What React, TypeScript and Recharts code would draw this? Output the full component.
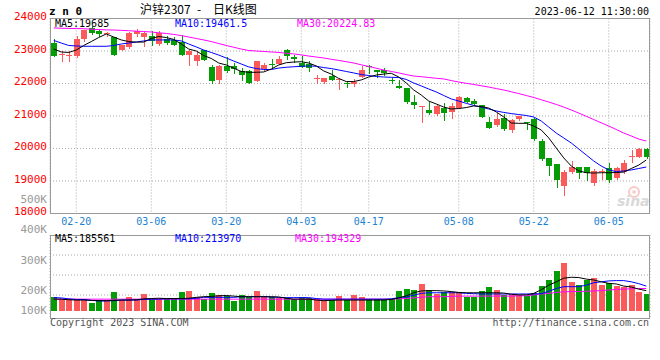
import React from 'react';
import { ComposedChart, Bar, Line, XAxis, YAxis, CartesianGrid } from 'recharts';

const RED = '#fa5a5a';
const GREEN = '#069c06';
const GRID = '#aaaaaa';
const BORDER = '#999999';
const DATE_BLUE = '#1a82d0';
const MONO = '"DejaVu Sans Mono", monospace';

const dates = [
  '02-15','02-16','02-17','02-20','02-21','02-22','02-23','02-24','02-27','02-28',
  '03-01','03-02','03-03','03-06','03-07','03-08','03-09','03-10','03-13','03-14','03-15','03-16','03-17','03-20','03-21','03-22','03-23','03-24','03-27','03-28','03-29','03-30','03-31',
  '04-03','04-04','04-06','04-07','04-10','04-11','04-12','04-13','04-14','04-17','04-18','04-19','04-20','04-21','04-24','04-25','04-26','04-27','04-28',
  '05-04','05-05','05-08','05-09','05-10','05-11','05-12','05-15','05-16','05-17','05-18','05-19','05-22','05-23','05-24','05-25','05-26','05-29','05-30','05-31',
  '06-01','06-02','06-05','06-06','06-07','06-08','06-09','06-12',
];

const opens = [23250,22890,22870,22855,23380,23710,23605,23520,23430,23040, 23125,23530,23420,23450,23225,23380,23350,23275,22885,22685, 23020,22500,22100,22530,22550,22375,22395,22080,22435,22610, 22600,23030,22825,22640,22600,22150,22055,22240,22140,22025, 21985,22210,22530,22415,22415,22095,21925,21870,21440,21280, 21185,21060,21235,21115,21235,21545,21460,21340,20825,20725, 20930,20570,20910,20810,20900,20240,19700,19525,18845,19285, 19440,19420,18950,19300,19390,19085,19270,19740,19750,19975];
const closes = [22855,22920,22890,23370,23635,23555,23530,23540,22885,23175, 23555,23605,23555,23300,23555,23255,23195,22885,23010,22885, 22730,22070,22530,22375,22445,22250,22015,22690,22570,22590, 22755,22845,22755,22515,22470,22170,22170,22110,22150,21975, 22045,22415,22510,22365,22315,22080,21870,21420,21340,21295, 21100,21315,21100,21315,21575,21440,21370,20980,20640,20900, 20590,20875,21000,20800,20285,19665,19460,19030,19285,19440, 19255,19255,19315,19315,19030,19390,19545,19755,19975,19750];
const highs = [23380,22990,22990,23450,23655,23760,23655,23585,23440,23195, 23575,23675,23585,23605,23605,23450,23420,23500,23020,22990, 23030,22580,22580,22805,22630,22475,22425,22700,22620,22755, 22845,23060,22875,22845,22700,22260,22170,22415,22160,22085, 22130,22540,22570,22415,22470,22160,22110,21875,21645,21300, 21440,21360,21390,21390,21615,21575,21515,21340,20980,21085, 21060,20910,21000,20820,20930,20285,19700,19525,19340,19615, 19440,19420,19360,19360,19545,19440,19645,19955,20005,20005];
const lows = [22840,22680,22680,22830,23300,23525,23450,23450,22880,23020, 23090,23450,23145,23195,23195,23225,23175,22880,22580,22580, 22720,22015,22015,22355,22325,22115,22015,22070,22415,22470, 22600,22750,22670,22515,22395,22025,22005,22105,21830,21885, 21925,22190,22330,22210,22260,22005,21870,21390,21255,20825, 21060,21030,20875,20950,21235,21440,21340,20980,20620,20690, 20570,20515,20875,20590,20260,19645,19185,18825,18570,19255, 19085,19030,18875,19050,18980,19050,19255,19595,19750,19715];

const ma5 = [23060,22970,22955,23030,23170,23290,23415,23525,23430,23340, 23290,23275,23275,23385,23445,23415,23355,23215,23060,23000, 22860,22770,22630,22570,22470,22370,22345,22345,22355,22445, 22570,22640,22660,22670,22630,22540,22385,22290,22155,22060, 22060,22110,22200,22260,22290,22315,22200,22015,21800,21645, 21460,21370,21275,21215,21230,21260,21310,21290,21245,21125, 20970,20785,20775,20775,20690,20570,20325,20015,19710,19460, 19310,19255,19245,19255,19255,19260,19275,19385,19490,19645];
const ma10 = [23325,23245,23170,23155,23145,23145,23145,23145,23170,23215, 23245,23275,23310,23340,23340,23340,23340,23310,23215,23125, 23030,22955,22875,22785,22690,22600,22510,22460,22430,22430, 22475,22500,22515,22530,22540,22530,22490,22460,22415,22370, 22325,22275,22245,22215,22200,22190,22185,22125,22015,21925, 21830,21740,21630,21525,21460,21390,21325,21275,21215,21155, 21110,21075,21045,21015,20970,20845,20660,20475,20325,20170, 19985,19800,19615,19460,19340,19290,19310,19340,19385,19430];
const ma30 = [23710,23700,23695,23690,23685,23670,23660,23650,23645,23635, 23625,23610,23600,23585,23560,23540,23510,23475,23430,23385, 23340,23290,23230,23170,23115,23060,23015,23000,22985,22970, 22955,22930,22910,22880,22845,22815,22785,22745,22710,22670, 22630,22575,22525,22470,22415,22370,22325,22275,22230,22210, 22185,22160,22140,22090,22045,22005,21970,21930,21890,21845, 21800,21745,21690,21630,21570,21500,21430,21355,21275,21185, 21090,20990,20890,20790,20690,20585,20475,20385,20290,20230];

const volumes = [185000,178000,178000,178000,178000,167000,176000,176000,203000,176000, 185000,178000,196000,178000,178000,178000,178000,203000,207000,187000, 178000,200000,193000,189000,173000,193000,185000,207000,189000,185000, 182000,182000,178000,185000,182000,178000,176000,176000,189000,176000, 193000,187000,178000,178000,178000,178000,206000,212000,209000,229000, 209000,196000,203000,203000,203000,185000,185000,207000,220000,209000, 193000,193000,193000,189000,200000,223000,242000,273000,299000,236000, 225000,242000,248000,225000,231000,222000,220000,225000,203000,196000];
const volMa5 = [179000,179000,177000,176000,176000,175000,174000,174000,175000,176000, 176000,177000,180000,181000,182000,181000,181000,181000,182000,185000, 187000,188000,190000,191000,189000,187000,187000,187000,187000,187000, 186000,182000,179000,179000,179000,176000,174000,175000,176000,176000, 176000,176000,176000,176000,176000,178000,183000,190000,200000,206000, 207000,207000,206000,204000,201000,200000,200000,200000,200000,200000, 199000,195000,193000,193000,198000,210000,225000,236000,248000,251000, 250000,245000,242000,236000,231000,229000,222000,219000,212000,207000];
const volMa10 = [184000,183000,180000,178000,178000,175000,173000,173000,174000,176000, 176000,176000,178000,179000,179000,180000,180000,180000,180000,182000, 185000,185000,185000,185000,185000,187000,187000,187000,187000,186000, 185000,184000,184000,184000,184000,181000,179000,179000,179000,179000, 179000,179000,179000,179000,179000,180000,184000,186000,192000,198000, 200000,200000,200000,200000,200000,198000,197000,196000,196000,196000, 196000,196000,196000,196000,196000,197000,205000,214000,220000,220000, 220000,225000,233000,236000,239000,240000,240000,236000,230000,222000];
const volMa30 = [179000,179000,179000,179000,179000,179000,179000,179000,179000,179000, 179000,179000,179000,179000,179000,179000,179000,179000,179000,179000, 179000,179000,179000,179000,179000,179000,179000,179000,179000,179000, 179000,179000,179000,179000,179000,179000,179000,179000,179000,179000, 179000,179000,179000,179000,179000,179000,180000,181000,183000,185000, 187000,187000,187000,188000,189000,189000,189000,189000,189000,189000, 189000,189000,190000,190000,193000,196000,198000,201000,203000,204000, 204000,205000,206000,207000,209000,211000,212000,213000,214000,214000];

const tickDates = ['02-20','03-06','03-20','04-03','04-17','05-08','05-22','06-05'];
const priceTicks = [18000,19000,20000,21000,22000,23000,24000];
const volTicks = [100000,200000,300000,400000,500000];
const VOL_BASE = 140000;

const title = { code: 'z n 0', name: '沪锌2307', dash: '-', kind: '日K线图', time: '2023-06-12 11:30:00' };
const priceHeader = { ma5: 'MA5:19685', ma10: 'MA10:19461.5', ma30: 'MA30:20224.83' };
const volHeader = { ma5: 'MA5:185561', ma10: 'MA10:213970', ma30: 'MA30:194329' };
const footer = { left: 'Copyright 2023 SINA.COM', right: 'http://finance.sina.com.cn' };

const data = dates.map((date, i) => ({
  date,
  open: opens[i], high: highs[i], low: lows[i], close: closes[i],
  ma5: ma5[i], ma10: ma10[i], ma30: ma30[i],
  vol: volumes[i], vma5: volMa5[i], vma10: volMa10[i], vma30: volMa30[i],
}));

const Candle = (props: any) => {
  const { x, y, width, height, payload } = props;
  if (!payload) return null;
  const { open, close, high, low } = payload;
  const color = close >= open ? RED : GREEN;
  const top = Math.min(y, y + height);
  const h = Math.abs(height);
  const range = high - low;
  const yOf = (v: number) => (range > 0 ? top + ((high - v) / range) * h : top);
  const cx = Math.round(x + width / 2);
  const bTop = Math.round(yOf(Math.max(open, close)));
  const bBot = Math.round(yOf(Math.min(open, close)));
  return (
    <g>
      <line x1={cx + 0.5} x2={cx + 0.5} y1={Math.round(top)} y2={Math.round(top + h) + 1} stroke={color} strokeWidth={1} />
      <rect x={cx - 3} y={bTop} width={6} height={Math.max(1, bBot - bTop)} fill={color} />
    </g>
  );
};

const VolBar = (props: any) => {
  const { x, y, width, height, payload } = props;
  if (!payload) return null;
  const color = payload.close >= payload.open ? RED : GREEN;
  const top = Math.min(y, y + height);
  const h = Math.abs(height);
  const cx = Math.round(x + width / 2);
  return <rect x={cx - 3} y={Math.round(top)} width={6} height={Math.round(h)} fill={color} />;
};

const PriceTick = (p: any) => (
  <text x={p.x - 3} y={p.y + 1.5} textAnchor="end" fill="#ff0000" fontSize={11} fontFamily={MONO}>
    {p.payload.value}
  </text>
);

const DateTick = (p: any) => (
  <text x={p.x} y={p.y + 11.5} textAnchor="middle" fill={DATE_BLUE} fontSize={10} fontFamily={MONO}>
    {p.payload.value}
  </text>
);

const VolTick = (p: any) => {
  const cy = Math.min(p.y - 2.3, 310);
  return (
    <text x={p.x - 3} y={cy + 3.6} textAnchor="end" fill="#999999" fontSize={11} fontFamily={MONO}>
      {`${p.payload.value / 1000}K`}
    </text>
  );
};

export default function App() {
  return (
    <div style={{ position: 'absolute', left: 0, top: 0, width: 660, height: 360, background: '#fff' }}>
      <div style={{ position: 'absolute', left: 0, top: 0 }}>
        <ComposedChart width={660} height={232} data={data} margin={{ top: 18.5, right: 10, left: 0, bottom: 0 }}>
          <CartesianGrid stroke={GRID} strokeDasharray="1 2" />
          <XAxis dataKey="date" type="category" ticks={tickDates} interval={0} height={18.5}
            tickLine={false} axisLine={false} tickSize={0} tickMargin={0} tick={DateTick} />
          <YAxis domain={[18000, 24000]} ticks={priceTicks} interval={0} width={50} allowDataOverflow
            tickLine={false} axisLine={false} tickSize={0} tickMargin={0} tick={PriceTick} />
          <Bar dataKey={(d: any) => [d.low, d.high]} barSize={6} isAnimationActive={false}
            shape={(p: any) => <Candle {...p} />} />
          <Line dataKey="ma30" stroke="#ff00ff" strokeWidth={1} dot={false} activeDot={false} isAnimationActive={false} />
          <Line dataKey="ma10" stroke="#0000ff" strokeWidth={1} dot={false} activeDot={false} isAnimationActive={false} />
          <Line dataKey="ma5" stroke="#000000" strokeWidth={1} dot={false} activeDot={false} isAnimationActive={false} />
        </ComposedChart>
      </div>
      <div style={{ position: 'absolute', left: 0, top: 0 }}>
        <ComposedChart width={660} height={330} data={data} margin={{ top: 235, right: 10, left: 0, bottom: 0 }}>
          <CartesianGrid stroke={GRID} strokeDasharray="1 2" horizontalPoints={[255, 275, 295]} />
          <XAxis dataKey="date" type="category" ticks={tickDates} interval={0} height={12}
            tickLine={false} axisLine={false} tick={false} />
          <YAxis domain={[117000, 390000]} ticks={volTicks} interval={0} width={50} allowDataOverflow
            tickLine={false} axisLine={false} tickSize={0} tickMargin={0} tick={VolTick} />
          <Bar dataKey={(d: any) => [VOL_BASE, d.vol]} barSize={6} isAnimationActive={false}
            shape={(p: any) => <VolBar {...p} />} />
          <Line dataKey="vma30" stroke="#ff00ff" strokeWidth={1} dot={false} activeDot={false} isAnimationActive={false} />
          <Line dataKey="vma10" stroke="#0000ff" strokeWidth={1} dot={false} activeDot={false} isAnimationActive={false} />
          <Line dataKey="vma5" stroke="#000000" strokeWidth={1} dot={false} activeDot={false} isAnimationActive={false} />
        </ComposedChart>
      </div>
      <svg width={660} height={360} style={{ position: 'absolute', left: 0, top: 0 }}>
        <rect x={50.5} y={18.5} width={599} height={195} fill="none" stroke={BORDER} />
        <rect x={50.5} y={235.5} width={599} height={83} fill="none" stroke={BORDER} />
        <text x={49} y={15} fontSize={11} fontWeight="bold" fontFamily={MONO} fill="#000">{title.code}</text>
        <text y={14} fontSize={12} fontFamily='"Noto Sans CJK SC", sans-serif' fill="#000">
          <tspan x={140}>{title.name}</tspan>
          <tspan x={197}>{title.dash}</tspan>
          <tspan x={213}>{title.kind}</tspan>
        </text>
        <text x={649} y={15} textAnchor="end" fontSize={10} fontFamily={MONO} fill="#000">{title.time}</text>
        <text x={55} y={27} fontSize={10} fontFamily={MONO} fill="#000">{priceHeader.ma5}</text>
        <text x={175} y={27} fontSize={10} fontFamily={MONO} fill="#0000ff">{priceHeader.ma10}</text>
        <text x={297} y={27} fontSize={10} fontFamily={MONO} fill="#ff00ff">{priceHeader.ma30}</text>
        <text x={55} y={241.5} fontSize={10} fontFamily={MONO} fill="#000">{volHeader.ma5}</text>
        <text x={175} y={241.5} fontSize={10} fontFamily={MONO} fill="#0000ff">{volHeader.ma10}</text>
        <text x={295} y={241.5} fontSize={10} fontFamily={MONO} fill="#ff00ff">{volHeader.ma30}</text>
        <text x={50} y={326} fontSize={10} fontFamily={MONO} fill="#555">{footer.left}</text>
        <text x={649} y={326} textAnchor="end" fontSize={10} fontFamily={MONO} fill="#555">{footer.right}</text>
        <g opacity={0.55}>
          <circle cx={634} cy={192} r={5} fill="none" stroke="#f2a0a0" strokeWidth={2} />
          <circle cx={634} cy={192} r={1.8} fill="#f2a0a0" />
          <text x={617} y={206} fontSize={14} fontStyle="italic" fontWeight="bold" fontFamily="DejaVu Sans, sans-serif" fill="#bbbbbb">sina</text>
        </g>
      </svg>
    </div>
  );
}
